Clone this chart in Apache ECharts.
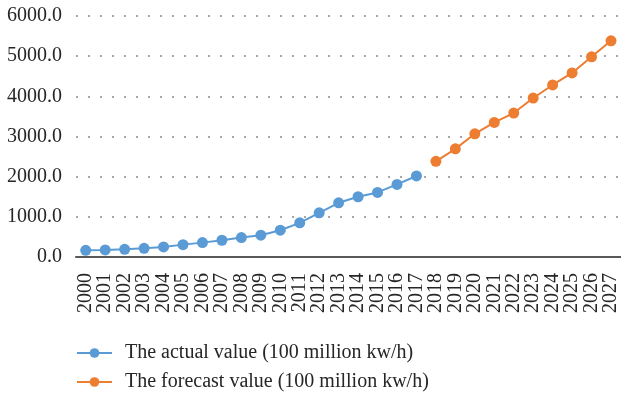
<!DOCTYPE html>
<html>
<head>
<meta charset="utf-8">
<script src="https://cdn.jsdelivr.net/npm/echarts@6/dist/echarts.min.js"></script>
<style>
  html, body { margin: 0; padding: 0; background: #fff; }
  #main { width: 621px; height: 395px; }
</style>
</head>
<body>
<div id="main"></div>
<script>
var myChart = echarts.init(document.getElementById('main'));

// data
var years = ['2000', '2001', '2002', '2003', '2004', '2005', '2006', '2007', '2008', '2009',
    '2010', '2011', '2012', '2013', '2014', '2015', '2016', '2017', '2018', '2019',
    '2020', '2021', '2022', '2023', '2024', '2025', '2026', '2027'];
var actual = [167, 175, 192, 217, 250, 308, 358, 417, 483, 542,
    667, 850, 1100, 1350, 1500, 1608, 1808, 2017,
    null, null, null, null, null, null, null, null, null, null];
var forecast = [null, null, null, null, null, null, null, null, null, null,
    null, null, null, null, null, null, null, null,
    2383, 2692, 3067, 3350, 3583, 3958, 4283, 4583, 4983, 5383];
var names = ['The actual value (100 million kw/h)', 'The forecast value (100 million kw/h)'];

var font = 'Liberation Serif';

option = {
    animation: false,
    textStyle: { fontFamily: font },
    grid: {
        left: 76,
        right: 0,
        top: 16,
        bottom: 138
    },
    legend: {
        orient: 'vertical',
        left: 71,
        top: 337,
        height: 60,
        itemWidth: 35,
        itemHeight: 12,
        itemGap: 7,
        data: names,
        textStyle: {
            fontFamily: font,
            fontSize: 20,
            lineHeight: 22,
            color: '#262626',
            padding: [0, 0, 0, 8]
        }
    },
    xAxis: {
        type: 'category',
        data: years,
        axisLine: { lineStyle: { color: '#595959', width: 2 } },
        axisTick: { show: false },
        axisLabel: {
            rotate: 90,
            interval: 0,
            margin: 16,
            fontFamily: font,
            fontSize: 20,
            color: '#262626'
        }
    },
    yAxis: {
        type: 'value',
        min: 0,
        max: 6000,
        interval: 1000,
        axisLine: { show: false },
        axisTick: { show: false },
        axisLabel: {
            margin: 14,
            fontFamily: font,
            fontSize: 20,
            color: '#262626',
            formatter: function (v) { return v.toFixed(1); }
        },
        splitLine: {
            lineStyle: { color: '#a6a6a6', width: 2, type: [2, 10] }
        }
    },
    series: [{
        name: names[0],
        type: 'line',
        data: actual,
        symbol: 'circle',
        symbolSize: 11,
        itemStyle: { color: '#5b9bd5' },
        lineStyle: { color: '#5b9bd5', width: 2 }
    }, {
        name: names[1],
        type: 'line',
        data: forecast,
        symbol: 'circle',
        symbolSize: 11,
        itemStyle: { color: '#ed7d31' },
        lineStyle: { color: '#ed7d31', width: 2 }
    }]
};

myChart.setOption(option);
</script>
</body>
</html>
